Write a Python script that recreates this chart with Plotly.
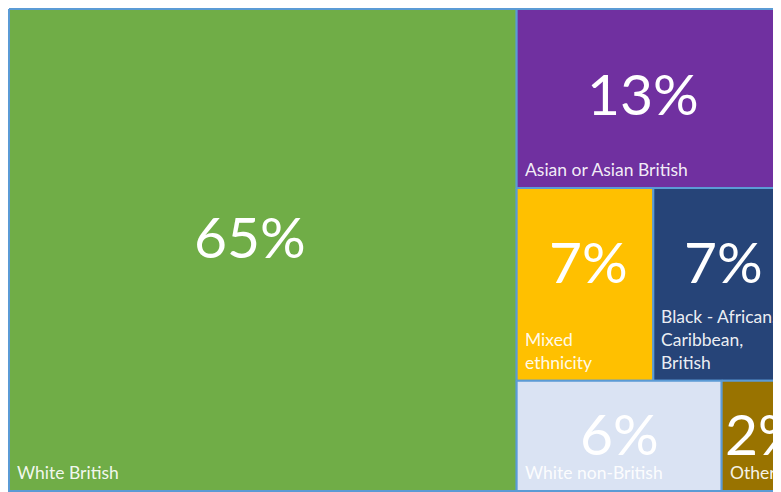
import plotly.graph_objects as go

# ---- data ----
categories = ["White British", "Asian or Asian British", "Mixed ethnicity",
              "Black - African, Caribbean, British", "White non-British", "Other"]
shares = [65, 13, 7, 7, 6, 2]
pct_labels = ["65%", "13%", "7%", "7%", "6%", "2%"]
tile_labels = ["White British", "Asian or Asian British", "Mixed<br>ethnicity",
               "Black - African,<br>Caribbean,<br>British", "White non-British", "Other"]

# ---- style ----
colors = ["#70AD47", "#7030A0", "#FFC000", "#264478", "#DAE3F3", "#997300"]
border = "#5B9BD5"
pct_yfrac = {"Mixed ethnicity": 0.38, "Black - African, Caribbean, British": 0.38}
pct_xshift = {"White British": -13, "Asian or Asian British": -10,
              "Mixed ethnicity": 4, "Black - African, Caribbean, British": 2, "Other": 9}
FONT = "Lato, 'Open Sans', sans-serif"

# treemap canvas (in pixel-like units); the right edge is clipped as in the original
CANVAS_W, CANVAS_H = 781, 482


def worst(row, length):
    s = sum(row)
    return max(max(length * length * r / (s * s), (s * s) / (length * length * r)) for r in row)


def layout_row(row, x, y, w, h):
    total = sum(row)
    rects = []
    if w >= h:
        width = total / h
        yy = y
        for a in row:
            hh = a / width
            rects.append((x, yy, width, hh))
            yy += hh
        return rects, (x + width, y, w - width, h)
    height = total / w
    xx = x
    for a in row:
        ww = a / height
        rects.append((xx, y, ww, height))
        xx += ww
    return rects, (x, y + height, w, h - height)


def squarify(values, x, y, w, h):
    tot = sum(values)
    areas = [v / tot * w * h for v in values]
    rects, i, n = [], 0, len(areas)
    while i < n:
        length = min(w, h)
        row = [areas[i]]
        j = i + 1
        while j < n and worst(row + [areas[j]], length) <= worst(row, length):
            row.append(areas[j])
            j += 1
        r, (x, y, w, h) = layout_row(row, x, y, w, h)
        rects += r
        i = j
    return rects


rects = squarify(shares, 0, 0, CANVAS_W, CANVAS_H)

fig = go.Figure()
annotations = []
for cat, (x, y, w, h), col, pct, lab in zip(categories, rects, colors, pct_labels, tile_labels):
    fig.add_trace(go.Scatter(
        x=[x, x + w, x + w, x, x], y=[y, y, y + h, y + h, y],
        mode="lines", fill="toself", fillcolor=col,
        line=dict(color=border, width=2), hoverinfo="text", text=f"{cat}: {pct}",
        showlegend=False))
    annotations.append(dict(
        x=x + w / 2, y=y + h * pct_yfrac.get(cat, 0.47), xref="x", yref="y",
        text=pct, showarrow=False, xanchor="center", yanchor="middle",
        xshift=pct_xshift.get(cat, 0),
        font=dict(family=FONT, size=57, color="white")))
    annotations.append(dict(
        x=x, y=y + h, xref="x", yref="y", text=lab, showarrow=False,
        xanchor="left", yanchor="bottom", align="left", xshift=6, yshift=6,
        font=dict(family=FONT, size=17.5, color="rgba(255,255,255,0.93)")))

fig.update_layout(
    width=773, height=484,
    margin=dict(l=0, r=0, t=0, b=0),
    paper_bgcolor="white", plot_bgcolor="white",
    xaxis=dict(range=[-1, 772], visible=False, fixedrange=True),
    yaxis=dict(range=[483, -1], visible=False, fixedrange=True),
    annotations=annotations,
)

fig.write_html("out.html")
